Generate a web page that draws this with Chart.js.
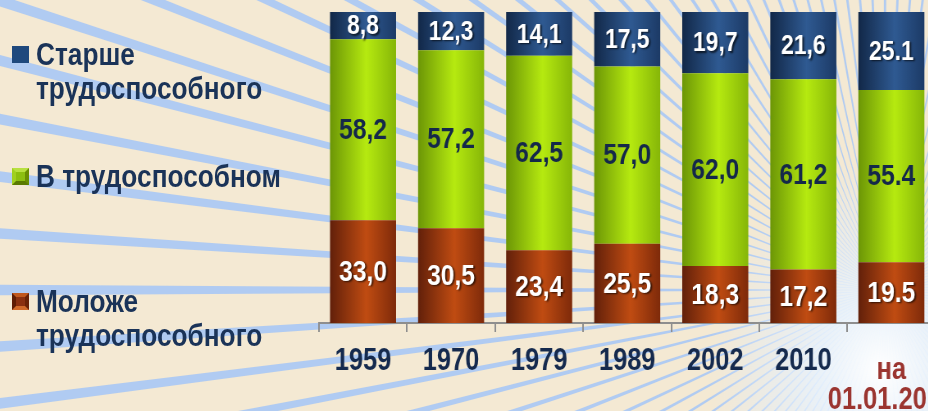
<!DOCTYPE html>
<html>
<head>
<meta charset="utf-8">
<script src="https://cdn.jsdelivr.net/npm/chart.js@4.4.0/dist/chart.umd.min.js"></script>
<style>
  html, body { margin: 0; padding: 0; width: 928px; height: 411px; overflow: hidden; background: #f4e9d3; }
  /* the chart is laid out wider and squeezed, so Liberation Sans Bold reads like a narrow font */
  #wrap { position: absolute; left: 0; top: 0; width: 1220px; height: 438px; transform: scaleX(0.82); transform-origin: 0 0; }
  #legend { position: absolute; left: 0; top: 0; font-family: "Liberation Sans", Arial, sans-serif;
            font-weight: bold; font-size: 32px; color: #1a3358; }
  .item { position: absolute; left: 0; line-height: 34px; white-space: nowrap; }
  .box { position: absolute; left: 12px; width: 17px; height: 17px; box-sizing: border-box; }
  .txt { position: absolute; left: 36px; transform: scaleX(0.82); transform-origin: 0 0; }
</style>
</head>
<body>
<div id="wrap"><canvas id="myChart"></canvas></div>
<div id="legend"></div>
<script>
// data
var years = ["1959", "1970", "1979", "1989", "2002", "2010", ["на", "01.01.2015"]];
var younger = [33.0, 30.5, 23.4, 25.5, 18.3, 17.2, 19.5];   // Моложе трудоспособного
var working = [58.2, 57.2, 62.5, 57.0, 62.0, 61.2, 55.4];   // В трудоспособном
var older = [8.8, 12.3, 14.1, 17.5, 19.7, 21.6, 25.1];      // Старше трудоспособного

var FONT = '"Liberation Sans", Arial, sans-serif';
var SQ = 0.82;          // horizontal squeeze of #wrap
var BAR_PCT = 0.75;
var LAST = years.length - 1;

// left, middle, right colours of the cylinder shading
function barFill(cols) {
    return function (c) {
        var chart = c.chart, xs = chart.scales.x;
        if (!chart.chartArea || c.dataIndex === undefined) return cols[1];
        var mid = xs.getPixelForValue(c.dataIndex);
        var half = (xs.getPixelForValue(1) - xs.getPixelForValue(0)) * BAR_PCT / 2;
        var g = chart.ctx.createLinearGradient(mid - half, 0, mid + half, 0);
        g.addColorStop(0, cols[0]);
        g.addColorStop(0.55, cols[1]);
        g.addColorStop(1, cols[2]);
        return g;
    };
}

// background: beige with light blue rays and a glow at lower right
var bgPlugin = {
    id: 'bg',
    beforeDraw: function (chart) {
        var ctx = chart.ctx, w = chart.width, h = chart.height;
        var cx = 885 / SQ, cy = 290;
        ctx.save();
        ctx.fillStyle = '#f4e9d3';
        ctx.fillRect(0, 0, w, h);
        ctx.fillStyle = 'rgba(168,200,245,0.9)';
        for (var a = 0; a < 360; a += 3) {
            var t = a * Math.PI / 180, d = 0.28 * Math.PI / 180;
            ctx.beginPath();
            ctx.moveTo(cx, cy);
            ctx.lineTo(cx + 2500 * Math.cos(t - d), cy + 2500 * Math.sin(t - d));
            ctx.lineTo(cx + 2500 * Math.cos(t + d), cy + 2500 * Math.sin(t + d));
            ctx.closePath();
            ctx.fill();
        }
        var g = ctx.createRadialGradient(880 / SQ, 370, 0, 880 / SQ, 370, 210);
        g.addColorStop(0, 'rgba(255,255,255,1)');
        g.addColorStop(0.35, 'rgba(232,243,255,0.85)');
        g.addColorStop(1, 'rgba(220,235,255,0)');
        ctx.fillStyle = g;
        ctx.fillRect(0, 0, w, h);
        ctx.restore();
    }
};

function fmt(v, i) {
    var s = v.toFixed(1);
    return i === LAST ? s : s.replace('.', ',');
}

// value labels in the middle of each segment
var valuePlugin = {
    id: 'values',
    afterDatasetsDraw: function (chart) {
        var ctx = chart.ctx;
        chart.data.datasets.forEach(function (ds, di) {
            chart.getDatasetMeta(di).data.forEach(function (bar, i) {
                var p = bar.getProps(['x', 'y', 'base'], true);
                ctx.save();
                ctx.font = 'bold ' + ds.labelSize + 'px ' + FONT;
                ctx.textAlign = 'center';
                ctx.textBaseline = 'middle';
                if (ds.labelColor === '#ffffff') {
                    ctx.shadowColor = 'rgba(0,0,0,0.65)';
                    ctx.shadowOffsetX = 2;
                    ctx.shadowOffsetY = 1.5;
                    ctx.shadowBlur = 2;
                }
                ctx.fillStyle = ds.labelColor;
                ctx.fillText(fmt(ds.data[i], i), p.x, (p.y + p.base) / 2 + 1);
                ctx.restore();
            });
        });
    }
};

var ctx = document.getElementById("myChart").getContext('2d');

var myChart = new Chart(ctx, {
    type: 'bar',
    data: {
        labels: years,
        datasets: [{
            label: ['Моложе', 'трудоспособного'],
            data: younger,
            backgroundColor: barFill(['#62200a', '#c04c12', '#7e2a0a']),
            labelColor: '#ffffff',
            labelSize: 30,
            legendTop: 284,
            legendBox: { background: '#8a3010', borderStyle: 'solid', borderWidth: '4px', borderColor: '#c0581e #6a2206 #d06a2a #5e1c04' }
        }, {
            label: ['В трудоспособном'],
            data: working,
            backgroundColor: barFill(['#6c9606', '#b6ea10', '#86b608']),
            labelColor: '#14284a',
            labelSize: 30,
            legendTop: 159,
            legendBox: { background: '#8cbf10', borderStyle: 'solid', borderWidth: '4px', borderColor: '#b8e040 #6a8f00 #5a7a00 #a0d020' }
        }, {
            label: ['Старше', 'трудоспособного'],
            data: older,
            backgroundColor: barFill(['#122848', '#2f5a92', '#1c3a66']),
            labelColor: '#ffffff',
            labelSize: 28,
            legendTop: 37,
            legendBox: { background: '#1f497d' }
        }]
    },
    options: {
        responsive: true,
        maintainAspectRatio: false,
        animation: false,
        layout: { padding: { left: 319 / SQ, right: 65 / SQ, top: 12, bottom: 0 } },
        datasets: { bar: { barPercentage: BAR_PCT, categoryPercentage: 1, borderWidth: 0 } },
        plugins: { legend: { display: false }, tooltip: { enabled: false } },
        scales: {
            x: {
                stacked: true,
                grid: { display: true, drawOnChartArea: false, offset: true, tickLength: 9, color: '#8e8e8e', lineWidth: 2 },
                border: { display: true, color: '#8e8e8e', width: 2 },
                ticks: {
                    autoSkip: false, maxRotation: 0, padding: 23,
                    color: function (c) { return c.index === LAST ? '#9b3530' : '#152a4e'; },
                    font: function (c) {
                        return { family: FONT, size: 31, weight: 'bold', lineHeight: c.index === LAST ? '30px' : '12px' };
                    }
                }
            },
            y: { stacked: true, display: false, min: 0, max: 100 }
        }
    },
    plugins: [bgPlugin, valuePlugin]
});

// legend on the left, top to bottom
var legend = document.getElementById('legend');
myChart.data.datasets.slice().reverse().forEach(function (ds) {
    var item = document.createElement('div');
    item.className = 'item';
    item.style.top = ds.legendTop + 'px';
    var box = document.createElement('div');
    box.className = 'box';
    box.style.top = '9px';
    Object.assign(box.style, ds.legendBox);
    var txt = document.createElement('div');
    txt.className = 'txt';
    txt.innerHTML = ds.label.join('<br>');
    item.appendChild(box);
    item.appendChild(txt);
    legend.appendChild(item);
});
</script>
</body>
</html>
